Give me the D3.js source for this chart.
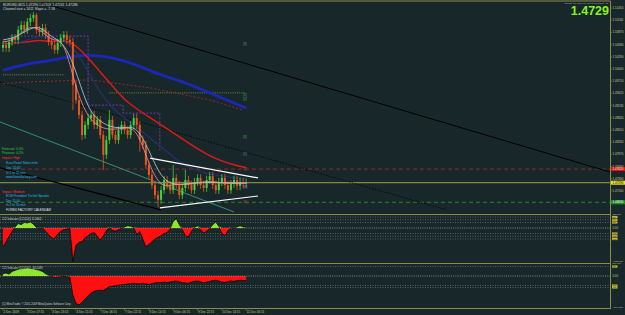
<!DOCTYPE html>
<html><head><meta charset="utf-8">
<script src="https://cdn.jsdelivr.net/npm/d3@7"></script>
<style>html,body{margin:0;padding:0;background:#18282a;}svg{display:block;font-family:"Liberation Sans",Arial,sans-serif;}</style>
</head><body>
<svg id="c" width="625" height="315"></svg>
<script>
// ---------- DATA (EURUSD, 2-hour samples) ----------
const firstOpen = 1.5050;
const closes = [1.5057,1.5050,1.5064,1.5074,1.5069,1.5093,1.5104,1.5093,1.5112,1.5121,1.5128,1.5093,1.5088,1.5097,1.5081,1.5064,1.5057,1.5045,1.5062,1.5074,1.5081,1.5069,1.5064,1.4962,1.4926,1.4891,1.4843,1.4867,1.4883,1.4891,1.4867,1.4879,1.4843,1.4796,1.4831,1.4879,1.4843,1.4831,1.4855,1.4867,1.4855,1.4843,1.4867,1.4883,1.4867,1.4831,1.4819,1.4772,1.4748,1.4724,1.4700,1.4689,1.4712,1.4736,1.4724,1.4712,1.4741,1.4724,1.4700,1.4717,1.4736,1.4724,1.4712,1.4731,1.4741,1.4724,1.4717,1.4736,1.4745,1.4724,1.4712,1.4731,1.4741,1.4724,1.4712,1.4727,1.4736,1.4722,1.4731,1.4727,1.4729];
const highs = [1.5066,1.5066,1.5074,1.5083,1.5083,1.5102,1.5114,1.5114,1.5121,1.5131,1.5135,1.5133,1.5102,1.5107,1.5107,1.5090,1.5074,1.5066,1.5071,1.5083,1.5090,1.5090,1.5078,1.5074,1.4971,1.4936,1.4900,1.4876,1.4893,1.4900,1.4900,1.4888,1.4888,1.4853,1.4841,1.4902,1.4888,1.4853,1.4864,1.4876,1.4876,1.4864,1.4876,1.4893,1.4893,1.4876,1.4841,1.4829,1.4781,1.4758,1.4734,1.4710,1.4722,1.4746,1.4746,1.4734,1.4772,1.4750,1.4734,1.4727,1.4760,1.4746,1.4734,1.4741,1.4750,1.4750,1.4734,1.4746,1.4755,1.4755,1.4734,1.4741,1.4750,1.4750,1.4734,1.4736,1.4746,1.4746,1.4741,1.4741,1.4739];
const lows = [1.5040,1.5040,1.5040,1.5055,1.5059,1.5059,1.5083,1.5083,1.5083,1.5102,1.5112,1.5083,1.5078,1.5078,1.5071,1.5055,1.5047,1.5036,1.5036,1.5052,1.5064,1.5059,1.5055,1.4902,1.4917,1.4881,1.4831,1.4834,1.4857,1.4874,1.4857,1.4857,1.4834,1.4760,1.4786,1.4822,1.4834,1.4822,1.4822,1.4845,1.4845,1.4834,1.4834,1.4857,1.4857,1.4803,1.4810,1.4762,1.4739,1.4715,1.4691,1.4672,1.4679,1.4703,1.4715,1.4703,1.4703,1.4715,1.4691,1.4691,1.4708,1.4715,1.4703,1.4703,1.4722,1.4715,1.4708,1.4708,1.4727,1.4715,1.4703,1.4703,1.4722,1.4715,1.4703,1.4703,1.4717,1.4712,1.4712,1.4717,1.4717];

// moving averages, one value every 4 bars
const maRed   = [1.5059,1.5062,1.5064,1.5069,1.5064,1.5069,1.5057,1.5026,1.4993,1.4959,1.4926,1.4905,1.4886,1.4867,1.4848,1.4829,1.4810,1.4793,1.4781,1.4772,1.4765];
const maBlue  = [1.4997,1.5005,1.5012,1.5016,1.5021,1.5026,1.5031,1.5033,1.5031,1.5026,1.5019,1.5009,1.4997,1.4986,1.4976,1.4967,1.4955,1.4943,1.4931,1.4919,1.4907];
const maNavy  = [1.5057,1.5059,1.5069,1.5078,1.5074,1.5069,1.5045,1.4993,1.4943,1.4907,1.4883,1.4862,1.4838,1.4815,1.4791,1.4769,1.4758,1.4750,1.4746,1.4741,1.4739];
const maCyan  = [1.5069,1.5074,1.5093,1.5104,1.5074,1.5064,1.4997,1.4902,1.4874,1.4860,1.4860,1.4864,1.4807,1.4741,1.4724,1.4727,1.4729,1.4731,1.4729,1.4729,1.4729];
const maPink  = [1.5064,1.5069,1.5102,1.5097,1.5064,1.5074,1.4950,1.4883,1.4860,1.4855,1.4860,1.4860,1.4772,1.4717,1.4727,1.4724,1.4729,1.4734,1.4729,1.4727,1.4729];
const maRedDotted = [[0,1.4965],[8,1.4969],[28.6,1.4974],[48.4,1.4955],[68.1,1.4926],[79,1.4902]];

// CCI indicators
const cciFast = [-340,-250,-150,-60,20,80,60,100,90,110,70,10,-15,5,-60,-120,-180,-190,-110,-60,-30,-20,-10,-610,-320,-260,-250,-180,-140,-100,-80,-150,-220,-150,-50,10,-40,-60,-30,-10,20,40,30,10,-120,-60,-200,-340,-300,-250,-200,-170,-140,-100,-80,-20,120,170,60,-30,-140,-160,-60,10,40,-30,-90,-60,-10,60,110,30,-100,-140,-50,10,-10,20,40,20,15];
const cciSlow = [60,80,50,120,150,180,190,200,210,200,190,170,150,120,60,20,-10,-40,-30,-20,-10,-20,-30,-500,-720,-760,-690,-600,-520,-450,-400,-380,-370,-380,-330,-280,-270,-250,-240,-230,-220,-210,-200,-190,-200,-210,-190,-200,-220,-200,-180,-170,-170,-160,-170,-160,-140,-130,-150,-170,-180,-190,-160,-140,-130,-150,-180,-160,-140,-120,-110,-130,-160,-170,-140,-130,-140,-120,-110,-120,-115];
const cciFastLevels = [200,150,100,-100,-150,-200];
const cciSlowLevels = [250,-250,-300];

// trend lines / objects: [barIndex, price]
const trendBlack   = [[12.8,1.5157],[199.7,1.4755]];
const trendDotted  = [[-1,1.4969],[146,1.4665]];
const trendLower   = [[-1,1.4765],[52,1.4665]];
const trendTeal    = [[-1,1.4874],[76,1.4660]];
const triUpper     = [[48.4,1.4788],[83.9,1.4741]];
const triLower     = [[51.6,1.4670],[83.9,1.4698]];
const purpleSteps  = [[2.3,1.5078],[28,1.5078],[28,1.4914],[39.5,1.4914],[39.5,1.4895],[51.6,1.4895],[51.6,1.4807]];
const oliveDotA    = [[0,1.4986],[20,1.4986]];
const oliveDotB    = [[35,1.4943],[79.5,1.4943]];
const levelRed = 1.4762, levelBid = 1.47296, levelGreen = 1.4683;
const fibLabels = ["[3]","[1]","[2]","[3]","[2]","[1]","[P]","[S]"];
const fibPrices = [1.5059,1.4938,1.4928,1.4838,1.4798,1.4762,1.4720,1.4684];

// axis labels
const priceTicks = [1.5145,1.5116,1.5087,1.5058,1.5029,1.5000,1.4971,1.4942,1.4913,1.4884,1.4855,1.4826,1.4797,1.4768,1.4739,1.4710];
const timeLabels = ["2 Dec 2009","3 Dec 07:15","3 Dec 23:15","4 Dec 15:15","7 Dec 06:15","7 Dec 22:15","8 Dec 14:15","9 Dec 06:15","9 Dec 22:15","10 Dec 14:15","11 Dec 06:15"];
const calendarTop = ["Forecast: 0.5%","Previous: 0.2%","Impact: High","Euro Retail Sales m/m","Dec 10:00","In 1 hr 55 min","www.forexfactory.com"];
const calendarBottom = ["Impact: Medium","ECB President Trichet Speaks","Dec 11:00","In 2 hr 55 min","FOREX FACTORY CALENDAR"];

// ---------- DRAW ----------
const svg = d3.select("#c");
const AX = 610;
const BG = "#18282a", OLIVE = "#8c8c48", LBL = "#c8c890";
svg.append("rect").attr("width",625).attr("height",315).attr("fill",BG);

const x = d3.scaleLinear().domain([0,199.7]).range([3,AX]);
const y = d3.scaleLinear().domain([1.4660,1.5159]).range([212,2]);
const yC1 = d3.scaleLinear().domain([-618,218]).range([262,216]);
const yC2 = d3.scaleLinear().domain([-840,290]).range([308,265]);

const defs = svg.append("defs");
defs.append("clipPath").attr("id","cm").append("rect").attr("x",0).attr("y",2).attr("width",AX).attr("height",212);
defs.append("clipPath").attr("id","c1").append("rect").attr("x",0).attr("y",215).attr("width",AX).attr("height",48);
defs.append("clipPath").attr("id","c2").append("rect").attr("x",0).attr("y",264.5).attr("width",AX).attr("height",44);

const main = svg.append("g").attr("clip-path","url(#cm)");
const pLine = d3.line().x(d=>x(d[0])).y(d=>y(d[1]));

function hline(p, color, dash, w){
  main.append("line").attr("x1",0).attr("x2",AX).attr("y1",y(p)).attr("y2",y(p))
    .attr("stroke",color).attr("stroke-width",w).attr("stroke-dasharray",dash);
}
hline(levelRed,"#9a2a2a","4,3",0.9);
hline(levelGreen,"#2a8a2a","4,3",0.9);
hline(levelBid,"#a0a040",null,1);

main.append("path").attr("d",pLine(trendTeal)).attr("stroke","#3aa88a").attr("stroke-width",0.8).attr("fill","none");
main.append("path").attr("d",pLine(trendBlack)).attr("stroke","#000").attr("stroke-width",1).attr("fill","none");
main.append("path").attr("d",pLine(trendDotted)).attr("stroke","#000").attr("stroke-width",0.8).attr("stroke-dasharray","1.5,1.5").attr("fill","none");
main.append("path").attr("d",pLine(trendLower)).attr("stroke","#000").attr("stroke-width",1.2).attr("fill","none");
main.append("path").attr("d",pLine(oliveDotA)).attr("stroke","#9a9a40").attr("stroke-width",0.8).attr("stroke-dasharray","1,1.2").attr("fill","none");
main.append("path").attr("d",pLine(oliveDotB)).attr("stroke","#9a9a40").attr("stroke-width",0.8).attr("stroke-dasharray","1,1.2").attr("fill","none");
main.append("path").attr("d",pLine(maRedDotted)).attr("stroke","#b02828").attr("stroke-width",0.8).attr("stroke-dasharray","2,2").attr("fill","none");
main.append("path").attr("d",pLine(purpleSteps)).attr("stroke","#8a3ad0").attr("stroke-width",0.8).attr("stroke-dasharray","2,1.5").attr("fill","none");

const maLine = d3.line().x((d,k)=>x(k*4)).y(d=>y(d)).curve(d3.curveBasis);
main.append("path").attr("d",maLine(maBlue)).attr("stroke","#1a28b8").attr("stroke-width",2.8).attr("fill","none");
main.append("path").attr("d",maLine(maRed)).attr("stroke","#e01818").attr("stroke-width",1.5).attr("fill","none");
main.append("path").attr("d",maLine(maNavy)).attr("stroke","#26306e").attr("stroke-width",1.2).attr("fill","none");

const bars = closes.map((c,i)=>({i, o: i===0?firstOpen:closes[i-1], c, h: highs[i], l: lows[i]}));
const cg = main.append("g");
bars.forEach(b=>{
  const col = b.c >= b.o ? "#44d13a" : "#e8561e";
  cg.append("line").attr("x1",x(b.i)).attr("x2",x(b.i)).attr("y1",y(b.h)).attr("y2",y(b.l)).attr("stroke",col).attr("stroke-width",0.8);
  const top = Math.min(y(b.o),y(b.c)), hh = Math.max(1,Math.abs(y(b.o)-y(b.c)));
  cg.append("rect").attr("x",x(b.i)-1).attr("y",top).attr("width",2).attr("height",hh).attr("fill",col);
});
main.append("path").attr("d",maLine(maCyan)).attr("stroke","#a8d8e8").attr("stroke-width",0.8).attr("fill","none");
main.append("path").attr("d",maLine(maPink)).attr("stroke","#ff8aa0").attr("stroke-width",0.8).attr("fill","none");

main.append("path").attr("d",pLine(triUpper)).attr("stroke","#fff").attr("stroke-width",1.2).attr("fill","none");
main.append("path").attr("d",pLine(triLower)).attr("stroke","#fff").attr("stroke-width",1.2).attr("fill","none");

fibLabels.forEach((t,k)=>{
  main.append("text").attr("x",x(79)).attr("y",y(fibPrices[k])+1).attr("font-size",3.2)
    .attr("fill", t==="[P]" ? "#e040e0" : (k>=5 ? "#c04040" : "#3cb44a")).text(t);
});

svg.append("text").attr("x",3).attr("y",5.5).attr("font-size",3.4).attr("fill","#d8d8d8").text("EURUSD,M15  1.47296 1.47306 1.47241 1.47286");
svg.append("text").attr("x",3).attr("y",10).attr("font-size",3.4).attr("fill","#d8d8d8").text("Channel size = 1611   Slope = -7.58");

const calColors = ["#3cc83c","#3cc83c","#ff3030","#30b8e0","#30b8e0","#30b8e0","#30b8e0"];
calendarTop.forEach((t,k)=>{
  svg.append("text").attr("x", k>=3?6:2).attr("y",149.5+k*4.8).attr("font-size",3.2).attr("fill",calColors[k]).text(t);
});
const calColors2 = ["#ff3030","#30b8e0","#30b8e0","#30b8e0","#e8e8e8"];
calendarBottom.forEach((t,k)=>{
  svg.append("text").attr("x", k>=1?6:2).attr("y",193+k*4.4).attr("font-size",3.2).attr("fill",calColors2[k]).text(t);
});

svg.append("text").attr("x",608).attr("y",4).attr("text-anchor","end").attr("font-size",2.3).attr("fill","#a8a8a8").text("Spread: 2.0   Time left: 08:45   Timeframe: 15");
svg.append("text").attr("x",609).attr("y",15).attr("text-anchor","end").attr("font-size",12.5).attr("font-weight","bold").attr("fill","#84f41c")
  .text(d3.format(".4f")(Math.floor(levelBid*1e4)/1e4));

// ---------- CCI panels ----------
function cciPanel(vals, ys, clip, levels, title){
  const g = svg.append("g").attr("clip-path",`url(#${clip})`);
  levels.forEach(l=>{
    g.append("line").attr("x1",0).attr("x2",AX).attr("y1",ys(l)).attr("y2",ys(l)).attr("stroke","#7a8a8a").attr("stroke-width",0.6).attr("stroke-dasharray","1,1.5");
  });
  const red = d3.area().x((d,i)=>x(i)).y0(ys(0)).y1(d=>ys(Math.min(d,0)));
  const grn = d3.area().x((d,i)=>x(i)).y0(ys(0)).y1(d=>ys(Math.max(d,0)));
  g.append("path").attr("d",red(vals)).attr("fill","#ff1010");
  g.append("path").attr("d",grn(vals)).attr("fill","#8ee82a");
  g.append("line").attr("x1",0).attr("x2",AX).attr("y1",ys(0)).attr("y2",ys(0)).attr("stroke","#c8c8c8").attr("stroke-width",0.6).attr("stroke-dasharray","1,1.2");
  g.append("path").attr("d",d3.line().x((d,i)=>x(i)).y(d=>ys(d))(vals)).attr("stroke","#000").attr("stroke-width",0.7).attr("fill","none");
  g.append("text").attr("x",2).attr("y",ys.range()[1]+4).attr("font-size",2.8).attr("fill","#d0d0d0").text(title);
  const lab = svg.append("g");
  levels.forEach(l=>{
    lab.append("rect").attr("x",AX+2).attr("y",ys(l)-1.1).attr("width",5.5).attr("height",2.2).attr("fill","#c8b838");
    lab.append("text").attr("x",AX+2.3).attr("y",ys(l)+0.7).attr("font-size",2.1).attr("fill","#222").text(l);
  });
  lab.append("text").attr("x",AX+2.5).attr("y",ys(0)+1).attr("font-size",2.8).attr("fill",LBL).text("0.00");
  const d = ys.domain();
  lab.append("text").attr("x",AX+2.5).attr("y",ys.range()[1]-0.9).attr("font-size",2.3).attr("fill",LBL).text(d3.format(".3f")(d[1]));
  lab.append("text").attr("x",AX+2.5).attr("y",ys.range()[0]-0.5).attr("font-size",2.5).attr("fill",LBL).text(d3.format(".3f")(d[0]));
}
cciPanel(cciFast, yC1, "c1", cciFastLevels, "CCI Indicator  (CCI(14))  15.6602");
cciPanel(cciSlow, yC2, "c2", cciSlowLevels, "CCI Indicator  (CCI(50))  -34.0409");

svg.append("text").attr("x",2).attr("y",305).attr("font-size",2.7).attr("fill","#d0d0d0").text("(C) MetaTrader, \u00a9 2001-2009 MetaQuotes Software Corp.");

function seg(x1,y1,x2,y2){ svg.append("line").attr("x1",x1).attr("y1",y1).attr("x2",x2).attr("y2",y2).attr("stroke",OLIVE).attr("stroke-width",1); }
seg(0,1,AX+0.5,1);
seg(AX+0.5,1,AX+0.5,309);
seg(0,214.5,AX+0.5,214.5);
seg(0,263.5,AX+0.5,263.5);
seg(0,308.5,AX+0.5,308.5);

const pax = svg.append("g");
priceTicks.forEach(p=>{
  pax.append("line").attr("x1",AX).attr("x2",AX+2).attr("y1",y(p)).attr("y2",y(p)).attr("stroke",OLIVE).attr("stroke-width",0.6);
  pax.append("text").attr("x",AX+2.5).attr("y",y(p)+1).attr("font-size",3).attr("fill",LBL).text(d3.format(".5f")(p));
});
function priceBox(p, fill, tc){
  pax.append("rect").attr("x",AX+1).attr("y",y(p)-2).attr("width",14).attr("height",4).attr("fill",fill);
  pax.append("text").attr("x",AX+2.5).attr("y",y(p)+1).attr("font-size",3).attr("fill",tc).text(d3.format(".5f")(p));
}
priceBox(levelRed,"#e01010","#fff");
priceBox(levelBid,"#e8e030","#000");
priceBox(levelGreen,"#1a9020","#fff");

timeLabels.forEach((t,k)=>{
  const xi = x(k*8);
  svg.append("line").attr("x1",xi).attr("x2",xi).attr("y1",308.5).attr("y2",310.5).attr("stroke",OLIVE).attr("stroke-width",0.6);
  svg.append("text").attr("x",xi+0.5).attr("y",313).attr("font-size",3).attr("fill",LBL).text(t);
});
</script>
</body></html>
